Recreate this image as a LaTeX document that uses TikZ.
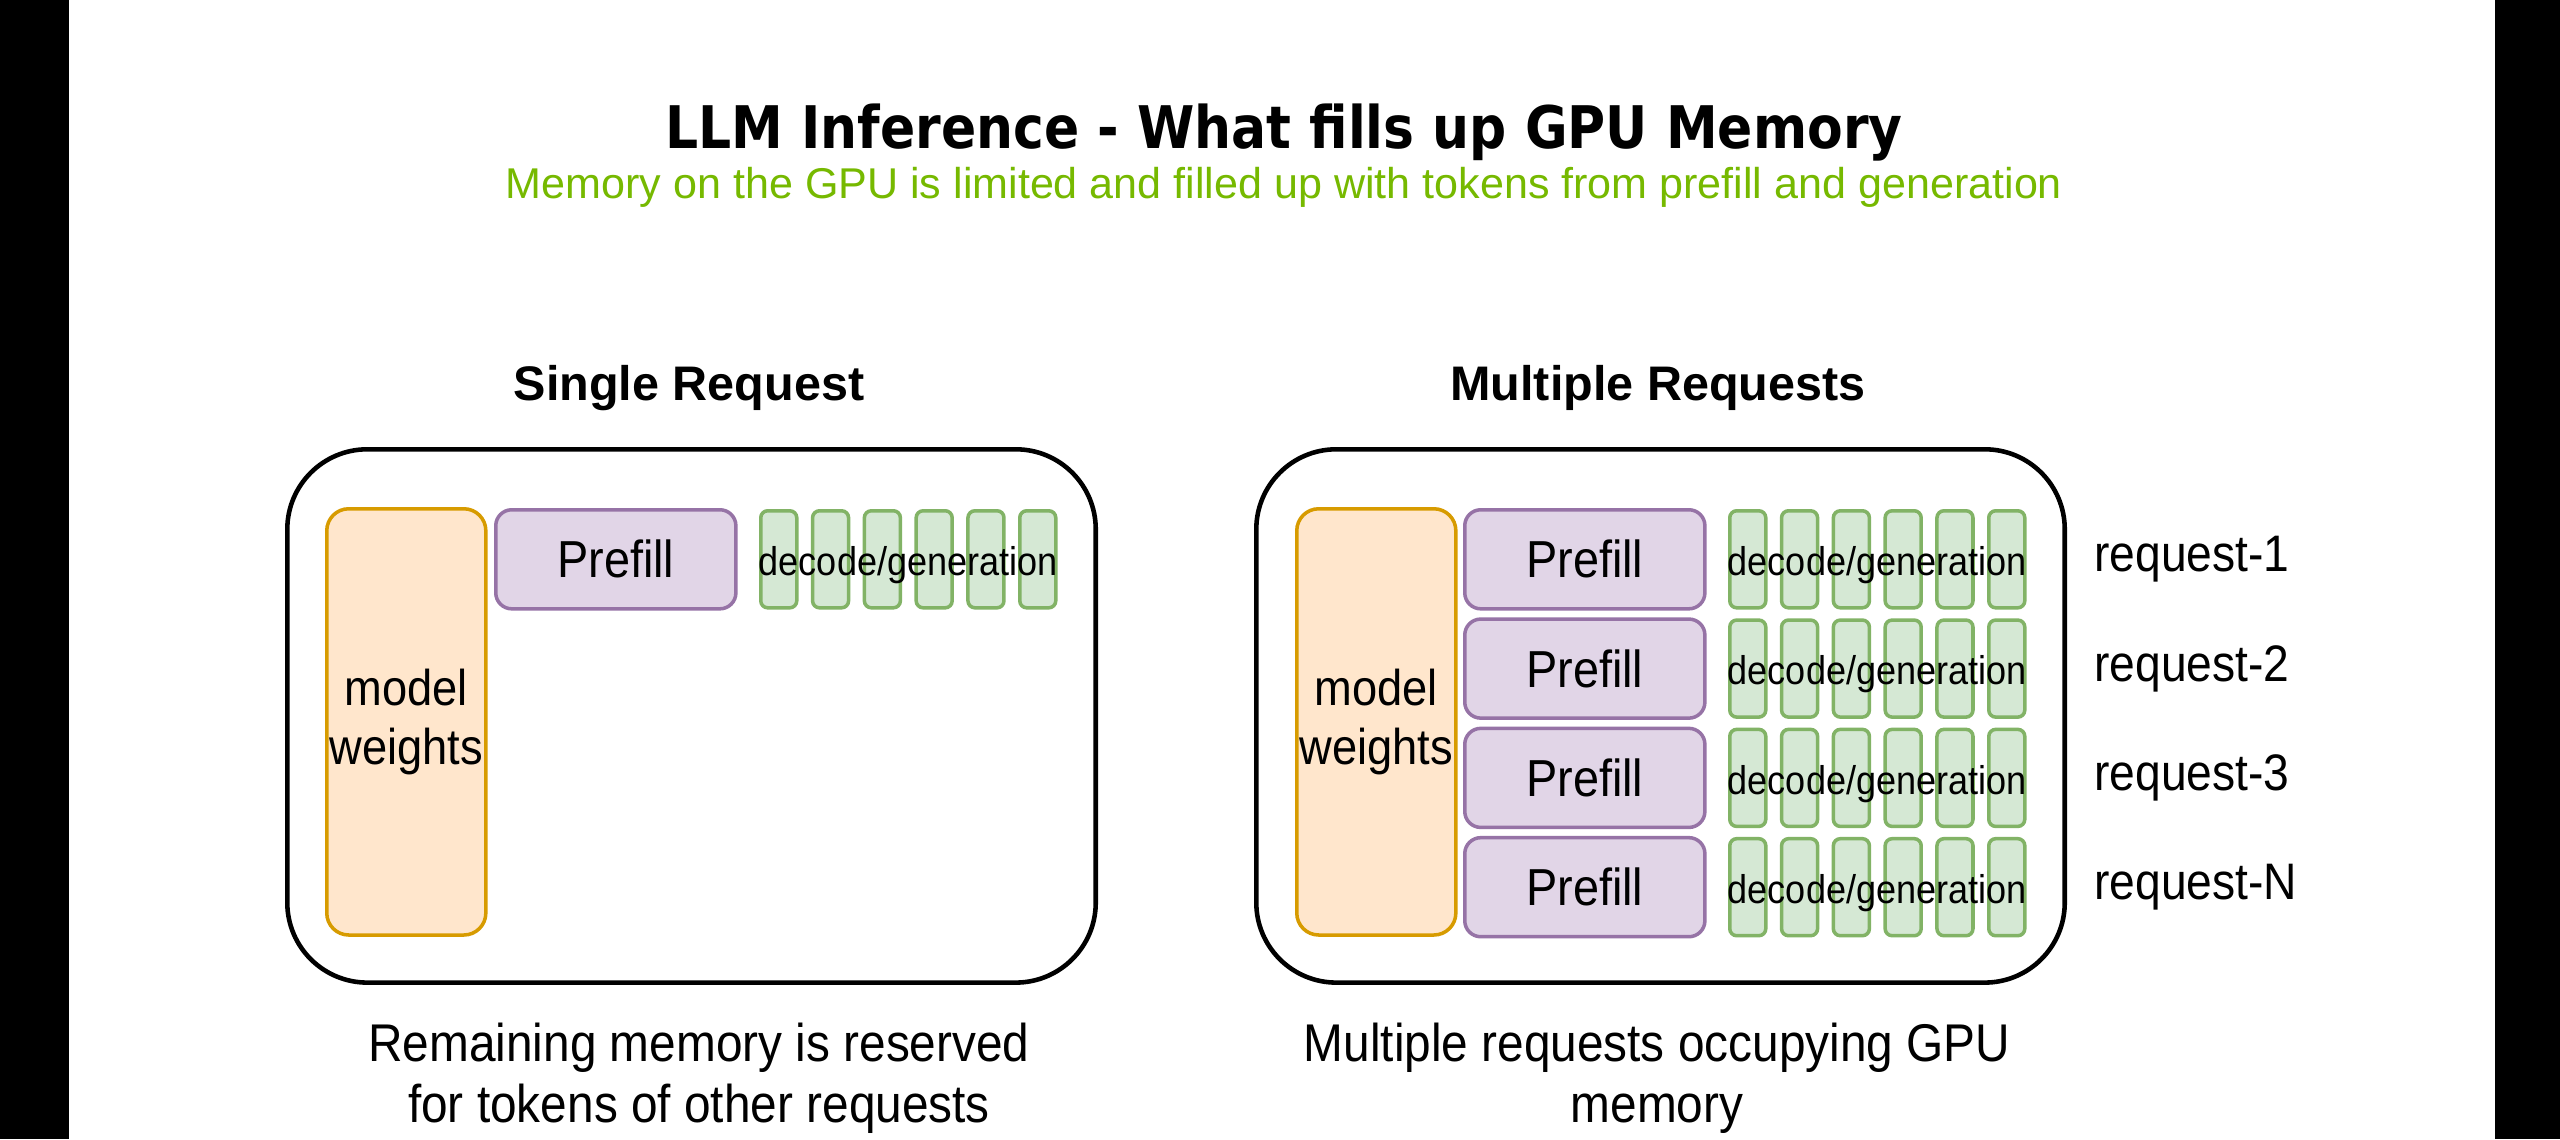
\documentclass[tikz,border=0pt]{standalone}
\usepackage{fontspec}
\setmainfont{Liberation Sans}[FakeStretch=0.9]
\newfontfamily\headfont{Liberation Sans}
\newfontfamily\titlefont{DejaVu Sans}[FakeStretch=0.885]
\usepackage{xcolor}
\usetikzlibrary{positioning,calc}
\definecolor{NvGreen}{RGB}{118,185,0}
\definecolor{WeightFill}{HTML}{FFE6CC}
\definecolor{WeightLine}{HTML}{D79B00}
\definecolor{PrefillFill}{HTML}{E1D5E7}
\definecolor{PrefillLine}{HTML}{9673A6}
\definecolor{TokFill}{HTML}{D5E8D4}
\definecolor{TokLine}{HTML}{82B366}

\begin{document}
\begin{tikzpicture}[
    x=0.01cm, y=-0.01cm,
    memory/.style   = {draw=black, line width=1.3pt, rounded corners=0.8cm,
                       minimum width=8.08cm, minimum height=5.33cm,
                       anchor=north west},
    weights/.style  = {draw=WeightLine, fill=WeightFill, line width=1pt,
                       rounded corners=0.22cm, inner sep=0pt,
                       minimum width=1.59cm, minimum height=4.26cm,
                       anchor=north west, align=center,
                       font=\fontsize{14.3}{17}\selectfont},
    prefill/.style  = {draw=PrefillLine, fill=PrefillFill, line width=1pt,
                       rounded corners=0.16cm,
                       minimum width=2.4cm, minimum height=0.99cm,
                       anchor=north west, font=\fontsize{14.8}{17}\selectfont},
    tok/.style      = {draw=TokLine, fill=TokFill, line width=1pt,
                       rounded corners=0.07cm, inner sep=0pt,
                       minimum width=0.36cm, minimum height=0.97cm,
                       anchor=north west},
    toklabel/.style = {inner sep=0pt, yshift=-0.06cm,
                       font=\fontsize{11.4}{13}\selectfont},
    reqlabel/.style = {anchor=west, inner sep=0pt,
                       font=\fontsize{14.6}{17}\selectfont},
    heading/.style  = {anchor=base, inner sep=0pt,
                       font=\headfont\bfseries\fontsize{13.8}{16}\selectfont},
    captext/.style  = {anchor=north, inner sep=0pt, align=center,
                       font=\fontsize{15.1}{17.4}\selectfont},
]

% ─── Frame ───────────────────────────────────────────────────────────────
\useasboundingbox (0,0) rectangle (2560,1139);
\fill[white] (69,0) rectangle (2495,1139);
\fill[black] (0,0) rectangle (69,1139);
\fill[black] (2495,0) rectangle (2560,1139);

% ─── Title ───────────────────────────────────────────────────────────────
\node[anchor=base, inner sep=0pt,
      font=\titlefont\bfseries\fontsize{16.7}{20}\selectfont] (title)
    at (1284,148) {LLM Inference - What fills up GPU Memory};
\node[anchor=base, inner sep=0pt, text=NvGreen,
      font=\headfont\fontsize{12.25}{14}\selectfont] (subtitle)
    at (1284,198)
    {Memory on the GPU is limited and filled up with tokens from prefill and generation};

% ─── Single request ──────────────────────────────────────────────────────
\node[heading] (head-single) at (689,400) {Single Request};
\node[memory] (mem-single) at (285,447) {};

\node[weights] (mw-single) at (325,507) {model\\weights};
\node[prefill] (pf-single) at (494,508) {Prefill};
\foreach \i in {0,...,5}
    \node[tok] (tok-s-\i) at ({759+51.8*\i},509) {};
\node[toklabel] (dec-s)
    at ($(tok-s-0.west)!0.5!(tok-s-5.east)$) {decode/generation};

\node[captext] (cap-single) at (699,1022)
    {Remaining memory is reserved\\for tokens of other requests};

% ─── Multiple requests ───────────────────────────────────────────────────
\node[heading] (head-multi) at (1658,400) {Multiple Requests};
\node[memory] (mem-multi) at (1254,447) {};

\node[weights] (mw-multi) at (1295,507) {model\\weights};
\foreach \r/\req in {0/1,1/2,2/3,3/N} {
    \node[prefill] (pf-\r) at (1463,{508+109.3*\r}) {Prefill};
    \foreach \i in {0,...,5}
        \node[tok] (tok-\r-\i) at ({1728+51.8*\i},{509+109.3*\r}) {};
    \node[toklabel] (dec-\r)
        at ($(tok-\r-0.west)!0.5!(tok-\r-5.east)$) {decode/generation};
    \node[reqlabel, right=0.67cm of tok-\r-5.east] (req-\r) {request-\req};
}

\node[captext] (cap-multi) at (1657,1022)
    {Multiple requests occupying GPU\\memory};

\end{tikzpicture}
\end{document}
